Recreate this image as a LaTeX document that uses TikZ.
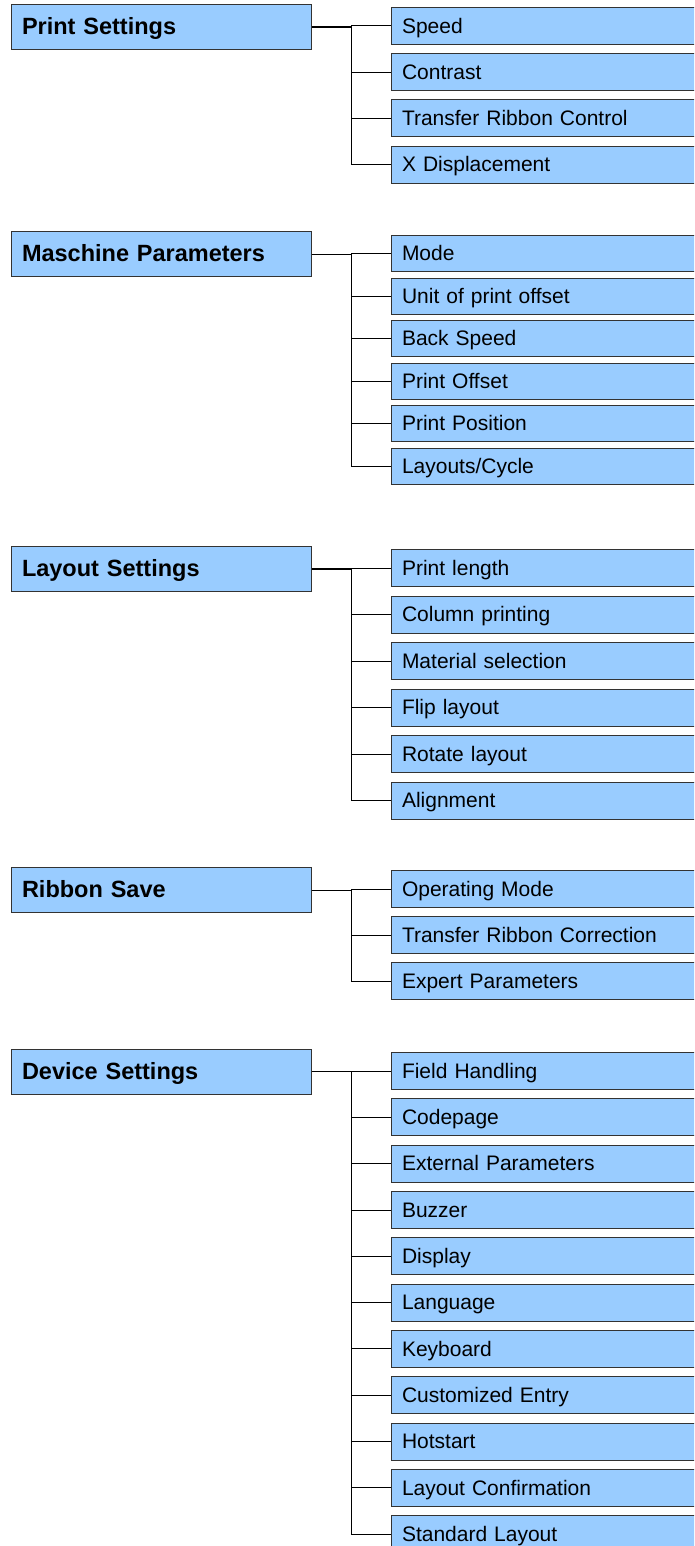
\documentclass[tikz,border=0pt]{standalone}
\usepackage{fontspec}
\setmainfont{Liberation Sans}
\definecolor{boxblue}{HTML}{99CCFF}
\definecolor{boxline}{HTML}{333333}
\begin{document}
\begin{tikzpicture}[x=1pt,y=-1pt,
  parent/.style={draw=boxline, line width=1pt, fill=boxblue, text width=278pt,
    inner xsep=11pt, inner ysep=0pt, minimum height=45pt, align=left, anchor=west,
    font=\fontsize{23.5}{28}\selectfont\bfseries, text height=17pt, text depth=2pt},
  child/.style={draw=boxline, line width=1pt, fill=boxblue, text width=298pt,
    inner xsep=11pt, inner ysep=0pt, minimum height=37pt, align=left, anchor=west,
    font=\fontsize{21}{25}\selectfont, text height=15pt, text depth=0.4pt},
  trunk/.style={line width=1.6pt, black},
  link/.style={line width=1pt, black}]
\useasboundingbox (0,0) rectangle (694,1546);
\clip (0,0) rectangle (694,1546);

% ---------- Section 1
\node[parent] (p1) at (10.5,26.8) {Print Settings};
\node[child] (a1) at (390.5,26.0) {Speed};
\node[child] (a2) at (390.5,72.2) {Contrast};
\node[child] (a3) at (390.5,118.4) {Transfer Ribbon Control};
\node[child] (a4) at (390.5,164.6) {X Displacement};
\coordinate (j1) at ([xshift=40pt]p1.east);
\draw[trunk] (p1.east) -- (j1);
\foreach \i in {1,...,4} \draw[link] (j1) |- (a\i.west);

% ---------- Section 2
\node[parent] (p2) at (10.5,254.3) {Maschine Parameters};
\node[child, minimum height=36pt] (b1) at (390.5,253.5) {Mode};
\node[child, minimum height=36pt] (b2) at (390.5,296.0) {Unit of print offset};
\node[child, minimum height=36pt] (b3) at (390.5,338.5) {Back Speed};
\node[child, minimum height=36pt] (b4) at (390.5,381.0) {Print Offset};
\node[child, minimum height=36pt] (b5) at (390.5,423.5) {Print Position};
\node[child, minimum height=36pt] (b6) at (390.5,466.0) {Layouts/Cycle};
\coordinate (j2) at ([xshift=40pt]p2.east);
\draw[link] (p2.east) -- (j2);
\foreach \i in {1,...,6} \draw[link] (j2) |- (b\i.west);

% ---------- Section 3
\node[parent] (p3) at (10.5,569.0) {Layout Settings};
\node[child] (c1) at (390.5,568.0) {Print length};
\node[child] (c2) at (390.5,614.5) {Column printing};
\node[child] (c3) at (390.5,661.0) {Material selection};
\node[child] (c4) at (390.5,707.5) {Flip layout};
\node[child] (c5) at (390.5,754.0) {Rotate layout};
\node[child] (c6) at (390.5,800.5) {Alignment};
\coordinate (j3) at ([xshift=40pt]p3.east);
\draw[trunk] (p3.east) -- (j3);
\foreach \i in {1,...,6} \draw[link] (j3) |- (c\i.west);

% ---------- Section 4
\node[parent] (p4) at (10.5,890.0) {Ribbon Save};
\node[child] (d1) at (390.5,889.0) {Operating Mode};
\node[child] (d2) at (390.5,935.0) {Transfer Ribbon Correction};
\node[child] (d3) at (390.5,981.0) {Expert Parameters};
\coordinate (j4) at ([xshift=40pt]p4.east);
\draw[link] (p4.east) -- (j4);
\foreach \i in {1,...,3} \draw[link] (j4) |- (d\i.west);

% ---------- Section 5
\node[parent] (p5) at (10.5,1071.5) {Device Settings};
\foreach \t [count=\i from 0] in {Field Handling, Codepage, External Parameters,
    Buzzer, Display, Language, Keyboard, Customized Entry, Hotstart,
    Layout Confirmation, Standard Layout}
  \node[child] (e\i) at (390.5,1071.0+46.33*\i) {\t};
\coordinate (j5) at ([xshift=40pt]p5.east);
\draw[trunk] (p5.east) -- (j5);
\foreach \i in {0,...,10} \draw[link] (j5) |- (e\i.west);
\end{tikzpicture}
\end{document}
